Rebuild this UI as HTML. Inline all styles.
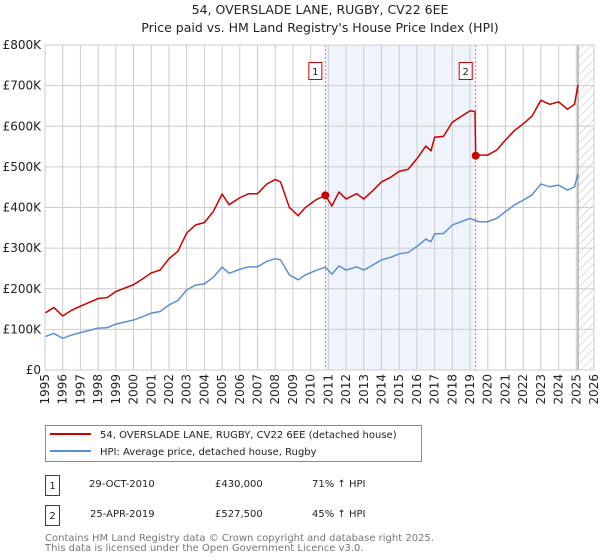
<!DOCTYPE html>
<html><head><meta charset="utf-8"><style>
body{margin:0;background:#fff;font-family:"Liberation Sans","DejaVu Sans",sans-serif;}
#wrap{position:relative;width:600px;height:560px;overflow:hidden}
svg text{font-family:"DejaVu Sans","Liberation Sans",sans-serif}
</style></head><body><div id="wrap">
<svg id="chart" width="600" height="560">
<text x="320" y="14" text-anchor="middle" font-size="12.5" fill="#222">54, OVERSLADE LANE, RUGBY, CV22 6EE</text>
<text x="320" y="32" text-anchor="middle" font-size="12.5" fill="#222">Price paid vs. HM Land Registry's House Price Index (HPI)</text>
<defs><pattern id="hatch" width="6" height="6" patternUnits="userSpaceOnUse" patternTransform="rotate(45)"><line x1="0" y1="0" x2="0" y2="6" stroke="#bbb" stroke-width="1"/></pattern></defs>
<g id="grid"></g><g id="marks"></g>
<rect x="45.5" y="425.5" width="376" height="36" fill="#fff" stroke="#888"/>
<line x1="50" y1="434" x2="91" y2="434" stroke="#cc0000" stroke-width="2"/>
<text x="100" y="438" font-size="10" fill="#222">54, OVERSLADE LANE, RUGBY, CV22 6EE (detached house)</text>
<line x1="50" y1="451" x2="91" y2="451" stroke="#5b8fd4" stroke-width="2"/>
<text x="100" y="455" font-size="10" fill="#222">HPI: Average price, detached house, Rugby</text>
<rect x="45.5" y="475.5" width="14" height="20" fill="#fff" stroke="#cc0000"/>
<text x="52.5" y="489" text-anchor="middle" font-size="10" fill="#222">1</text>
<text x="89" y="487" font-size="10" fill="#222">29-OCT-2010</text>
<text x="215" y="487" font-size="10" fill="#222">£430,000</text>
<text x="312" y="487" font-size="10" fill="#222">71% ↑ HPI</text>
<rect x="45.5" y="505.5" width="14" height="20" fill="#fff" stroke="#cc0000"/>
<text x="52.5" y="519" text-anchor="middle" font-size="10" fill="#222">2</text>
<text x="90" y="517" font-size="10" fill="#222">25-APR-2019</text>
<text x="215" y="517" font-size="10" fill="#222">£527,500</text>
<text x="312" y="517" font-size="10" fill="#222">45% ↑ HPI</text>
<text x="45" y="541" font-size="10" fill="#777">Contains HM Land Registry data © Crown copyright and database right 2025.</text>
<text x="45" y="551" font-size="10" fill="#777">This data is licensed under the Open Government Licence v3.0.</text>
</svg></div>
<script>
const yTicks=[0,100,200,300,400,500,600,700,800];
const yTickLabels=["£0","£100K","£200K","£300K","£400K","£500K","£600K","£700K","£800K"];
const xYears=[1995,1996,1997,1998,1999,2000,2001,2002,2003,2004,2005,2006,2007,2008,2009,2010,2011,2012,2013,2014,2015,2016,2017,2018,2019,2020,2021,2022,2023,2024,2025,2026];
const hpiYears=[1995,1995.5,1996,1996.5,1997,1998,1998.5,1999,2000,2000.5,2001,2001.5,2002,2002.5,2003,2003.5,2004,2004.5,2005,2005.4,2006,2006.5,2007,2007.5,2008,2008.3,2008.8,2009.3,2009.7,2010.3,2010.83,2011.2,2011.6,2012,2012.6,2013,2013.5,2014,2014.5,2015,2015.5,2016,2016.5,2016.8,2017,2017.5,2018,2018.5,2019,2019.5,2020,2020.5,2021,2021.5,2022,2022.5,2023,2023.5,2024,2024.5,2024.9,2025.1];
const hpiValues=[82,90,78,86,92,103,104,113,123,131,140,144,160,171,197,209,212,228,253,238,248,254,254,267,274,271,234,222,234,245,253,236,256,246,254,246,258,271,277,286,289,304,322,316,335,336,357,365,373,365,365,373,390,406,418,431,458,451,455,443,451,484];
const priceYears=[1995,1995.5,1996,1996.5,1997,1998,1998.5,1999,2000,2000.5,2001,2001.5,2002,2002.5,2003,2003.5,2004,2004.5,2005,2005.4,2006,2006.5,2007,2007.5,2008,2008.3,2008.8,2009.3,2009.7,2010.3,2010.83,2011.2,2011.6,2012,2012.6,2013,2013.5,2014,2014.5,2015,2015.5,2016,2016.5,2016.8,2017,2017.5,2018,2018.5,2019,2019.28,2019.32,2019.5,2020,2020.5,2021,2021.5,2022,2022.5,2023,2023.5,2024,2024.5,2024.9,2025.1];
const priceValues=[140,154,133,147,157,176,178,193,210,224,239,246,274,292,337,357,363,390,433,407,424,434,434,457,469,463,400,380,400,419,430,404,438,421,434,421,441,463,474,489,494,520,551,540,573,575,610,624,638,636,527.5,529,529,541,566,589,606,625,664,654,660,642,654,702];
const saleYears=[2010.83,2019.32];
const saleValues=[430,527.5];
const saleLabels=["1","2"];
const L=45,R=594,T=45,B=370,Y0=1995,Y1=2026;
const NS="http://www.w3.org/2000/svg";
const xs=y=>L+(y-Y0)/(Y1-Y0)*(R-L);
const ys=v=>B-v/800*(B-T);
function mk(tag,attrs,parent){const e=document.createElementNS(NS,tag);for(const k in attrs)e.setAttribute(k,attrs[k]);parent.appendChild(e);return e;}
const grid=document.getElementById('grid'),marks=document.getElementById('marks');
let sh=mk('rect',{x:xs(saleYears[0]),y:T,width:xs(saleYears[1])-xs(saleYears[0]),height:B-T,fill:'#eef3fc'},grid);


let ht=mk('rect',{x:xs(2025.1),y:T,width:R-xs(2025.1),height:B-T,fill:'url(#hatch)'},grid);


yTicks.forEach((v,i)=>{
 mk('line',{x1:L,x2:R,y1:ys(v),y2:ys(v),stroke:'#ccc','stroke-width':1},grid);
 const t=mk('text',{x:L-4,y:ys(v)+4,'text-anchor':'end','font-size':12,fill:'#222'},grid);
 t.textContent=yTickLabels[i];
 
 
});
xYears.forEach(y=>{
 mk('line',{x1:xs(y),x2:xs(y),y1:T,y2:B,stroke:'#ccc','stroke-width':1},grid);
 const t=mk('text',{x:0,y:0,'text-anchor':'end','font-size':12,fill:'#222',transform:`translate(${xs(y)+4},${B+4}) rotate(-90)`},grid);
 t.textContent=String(y);
 
 
});
mk('line',{x1:xs(2025.1),x2:xs(2025.1),y1:T,y2:B,stroke:'#888','stroke-width':1},grid);
saleYears.forEach(y=>{mk('line',{x1:xs(y),x2:xs(y),y1:T,y2:B,stroke:'#ff6666','stroke-width':1,'stroke-dasharray':'2,2'},grid);});
const hp=mk('polyline',{points:hpiYears.map((y,i)=>xs(y)+','+ys(hpiValues[i])).join(' '),fill:'none',stroke:'#5b8fd4','stroke-width':1.5},marks);


const pp=mk('polyline',{points:priceYears.map((y,i)=>xs(y)+','+ys(priceValues[i])).join(' '),fill:'none',stroke:'#cc0000','stroke-width':1.5},marks);


saleYears.forEach((y,i)=>{
 const c=mk('circle',{cx:xs(y),cy:ys(saleValues[i]),r:4,fill:'#cc0000'},marks);
 
 
 const bx=xs(y)-10;
 const r=mk('rect',{x:bx-6.5,y:62.5,width:13,height:17,fill:'#fff',stroke:'#cc0000'},marks);
 
 
 const t=mk('text',{x:bx,y:75,'text-anchor':'middle','font-size':10,fill:'#222'},marks);
 t.textContent=saleLabels[i];
});
mk('rect',{x:L,y:T,width:R-L,height:B-T,fill:'none',stroke:'#ccc'},marks);
</script></body></html>
